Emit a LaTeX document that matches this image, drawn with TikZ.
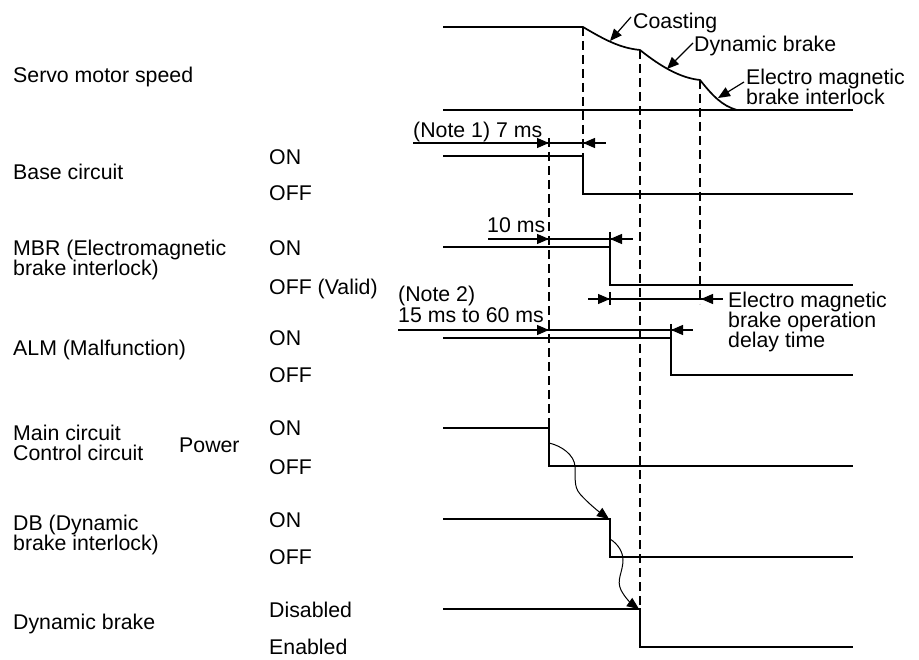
\documentclass[tikz,border=0pt]{standalone}
\usepackage{fontspec}
\setmainfont{Liberation Sans}
\usetikzlibrary{arrows.meta}
\begin{document}
\begin{tikzpicture}[x=1pt,y=-1pt,
  lbl/.style={anchor=base west,inner sep=0pt,font=\fontsize{21.3}{25}\selectfont},
  sig/.style={line width=1.7pt,line join=miter},
  dim/.style={line width=1.25pt},
  dsh/.style={line width=1.25pt,dash pattern=on 9pt off 5pt},
  head/.style={dim,-{Triangle[length=12pt,width=10pt]}},
  callout/.style={line width=1.2pt,-{Triangle[length=12pt,width=10pt]}},
  curvy/.style={line width=1pt,-{Triangle[length=12pt,width=10pt]}}
]
\useasboundingbox[fill=white] (0,0) rectangle (919,660);

% ---------- left labels ----------
\node[lbl] (lspeed) at (13,82.6) {Servo motor speed};
\node[lbl] (lbase) at (13,179.6) {Base circuit};
\node[lbl] (lmbr1) at (13,255.6) {MBR (Electromagnetic};
\node[lbl] (lmbr2) at (13,275.6) {brake interlock)};
\node[lbl] (lalm) at (13,355.6) {ALM (Malfunction)};
\node[lbl] (lmain) at (13,440.6) {Main circuit};
\node[lbl] (lctrl) at (13,460.6) {Control circuit};
\node[lbl] (lpow) at (179,452.6) {Power};
\node[lbl] (ldb1) at (13,530.6) {DB (Dynamic};
\node[lbl] (ldb2) at (13,550.6) {brake interlock)};
\node[lbl] (ldyn) at (13,629.6) {Dynamic brake};

% ---------- state labels ----------
\node[lbl] (s1a) at (269,164.6) {ON};
\node[lbl] (s1b) at (269,200.6) {OFF};
\node[lbl] (s2a) at (269,255.6) {ON};
\node[lbl] (s2b) at (269,294.6) {OFF (Valid)};
\node[lbl] (s3a) at (269,345.6) {ON};
\node[lbl] (s3b) at (269,382.6) {OFF};
\node[lbl] (s4a) at (269,435.6) {ON};
\node[lbl] (s4b) at (269,474.6) {OFF};
\node[lbl] (s5a) at (269,527.6) {ON};
\node[lbl] (s5b) at (269,564.6) {OFF};
\node[lbl] (s6a) at (269,617.6) {Disabled};
\node[lbl] (s6b) at (269,654.6) {Enabled};

% ---------- dashed guide lines ----------
\draw[dsh] (583,27) -- (583,156);
\draw[dsh] (549,138) -- (549,428);
\draw[dsh] (640,50) -- (640,609);
\draw[dsh] (700,80) -- (700,304);

% ---------- servo motor speed ----------
\coordinate (v0) at (443,27);
\coordinate (v1) at (583,27);
\coordinate (v2) at (640,50);
\coordinate (v3) at (700,80);
\coordinate (v4) at (737,110);
\draw[sig] (v0) -- (v1)
  .. controls (605,40) and (620,48) .. (v2)
  .. controls (660,66) and (680,78) .. (v3)
  .. controls (712,95) and (722,106) .. (v4);
\draw[sig] (443,110) -- (853,110);

\node[lbl] (tcoast) at (633,28.6) {Coasting};
\node[lbl] (tdyn) at (694,51.6) {Dynamic brake};
\node[lbl] (tem1) at (746,84.6) {Electro magnetic};
\node[lbl] (tem2) at (746,104.6) {brake interlock};
\draw[callout] (631,17) -- (610,41);
\draw[callout] (693,43) -- (667,69);
\draw[callout] (744,82) -- (718,98);

% ---------- base circuit ----------
\draw[sig] (443,156) -- (583,156) -- (583,194) -- (853,194);
\node[lbl] (tn1) at (413,137.6) {(Note 1) 7 ms};
\draw[dim] (413,143) -- (606,143);
\draw[head] (530,143) -- (549,143);
\draw[head] (603,143) -- (583,143);

% ---------- MBR ----------
\draw[sig] (443,247) -- (610,247) -- (610,285) -- (853,285);
\draw[dim] (610,232) -- (610,247);
\node[lbl] (t10) at (487,232.6) {10 ms};
\draw[dim] (488,239) -- (633,239);
\draw[head] (530,239) -- (549,239);
\draw[head] (630,239) -- (610,239);

\draw[dim] (588,299) -- (723,299);
\draw[dim] (610,292) -- (610,305);
\draw[head] (592,299) -- (610,299);
\draw[head] (720,299) -- (701,299);
\node[lbl] (tb1) at (728,307.6) {Electro magnetic};
\node[lbl] (tb2) at (728,327.6) {brake operation};
\node[lbl] (tb3) at (728,347.6) {delay time};

% ---------- ALM ----------
\draw[sig] (443,338) -- (671,338) -- (671,375) -- (853,375);
\draw[dim] (671,324) -- (671,338);
\node[lbl] (tn2) at (398,301.6) {(Note 2)};
\node[lbl] (tn2b) at (398,323) {15 ms to 60 ms};
\draw[dim] (398,330) -- (693,330);
\draw[head] (530,330) -- (549,330);
\draw[head] (690,330) -- (671,330);

% ---------- power ----------
\draw[sig] (443,428) -- (549,428) -- (549,466) -- (853,466);
\draw[curvy] (549,443) .. controls (562,446) and (574,455) .. (575,466)
  .. controls (576,476) and (573,486) .. (580,494)
  .. controls (588,503) and (598,511) .. (609,519);

% ---------- DB ----------
\draw[sig] (443,519) -- (610,519) -- (610,557) -- (853,557);
\draw[curvy] (610,539) .. controls (618,544) and (623,552) .. (623,560)
  .. controls (623,572) and (616,580) .. (621,590)
  .. controls (625,598) and (632,604) .. (639,609);

% ---------- dynamic brake ----------
\draw[sig] (443,609) -- (640,609) -- (640,647) -- (853,647);
\end{tikzpicture}
\end{document}
